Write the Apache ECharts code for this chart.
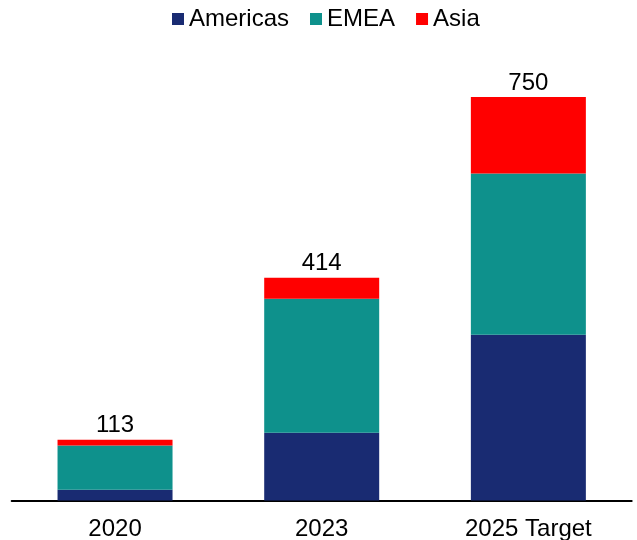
<!DOCTYPE html>
<html>
<head>
<meta charset="utf-8">
<title>Regional totals</title>
<script src="https://cdn.jsdelivr.net/npm/echarts@6/dist/echarts.min.js"></script>
<style>
  html, body { margin: 0; padding: 0; background: #fff; }
  #chart { width: 637px; height: 540px; }
</style>
</head>
<body>
<div id="chart"></div>
<script>
// Categories and stacked regional values
const categories = ['2020', '2023', '2025 Target'];
const americas = [20, 126, 308];
const emea = [82, 249, 300];
const asia = [11, 39, 142];

// Totals shown above each stack
const totals = categories.map((_, i) => americas[i] + emea[i] + asia[i]);

const FONT = '"Liberation Sans", Arial, sans-serif';

const chart = echarts.init(document.getElementById('chart'), null, { renderer: 'canvas' });

chart.setOption({
  animation: false,
  textStyle: { fontFamily: FONT },
  legend: {
    top: 2,
    left: 167,
    itemWidth: 12,
    itemHeight: 12,
    itemGap: 21,
    icon: 'rect',
    textStyle: { fontSize: 24, color: '#000', fontFamily: FONT, padding: [0, 0, 0, 0] },
    data: ['Americas', 'EMEA', 'Asia']
  },
  grid: { left: 11.7, right: 5.3, top: 97, bottom: 39.5, outerBoundsMode: 'none', containLabel: false },
  xAxis: {
    type: 'category',
    data: categories,
    axisTick: { show: false },
    axisLine: { lineStyle: { color: '#000', width: 2 } },
    axisLabel: { fontSize: 24, color: '#000', margin: 17, fontFamily: FONT }
  },
  yAxis: {
    type: 'value',
    min: 0,
    max: 750,
    show: false,
    splitLine: { show: false }
  },
  series: [
    {
      name: 'Americas',
      type: 'bar',
      stack: 'total',
      barWidth: 115,
      itemStyle: { color: '#192b72' },
      data: americas
    },
    {
      name: 'EMEA',
      type: 'bar',
      stack: 'total',
      barWidth: 115,
      itemStyle: { color: '#0e918c' },
      data: emea
    },
    {
      name: 'Asia',
      type: 'bar',
      stack: 'total',
      barWidth: 115,
      itemStyle: { color: '#ff0000' },
      label: {
        show: true,
        position: 'top',
        distance: 2,
        fontSize: 24,
        color: '#000',
        fontFamily: FONT,
        formatter: p => String(totals[p.dataIndex])
      },
      data: asia
    }
  ]
});
</script>
</body>
</html>
